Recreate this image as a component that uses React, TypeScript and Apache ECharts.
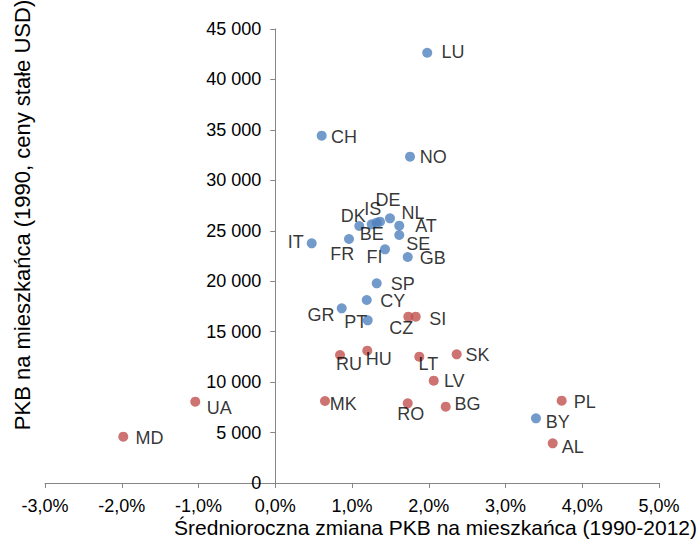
import React, { useEffect, useRef } from "react";
import * as echarts from "echarts";

// Blue series (Western Europe + BY)
const blueNames = ["LU", "CH", "NO", "DK", "IS", "BE", "DE", "NL", "AT", "SE", "FR", "IT", "FI", "GB", "SP", "CY", "GR", "PT", "BY"];
const blueX = [1.98, 0.605, 1.756, 1.095, 1.257, 1.322, 1.365, 1.495, 1.616, 1.616, 0.961, 0.475, 1.43, 1.726, 1.322, 1.192, 0.866, 1.205, 3.397];
const blueY = [42650, 34425, 32343, 25474, 25642, 25801, 25900, 26237, 25504, 24582, 24185, 23759, 23164, 22401, 19794, 18139, 17316, 16127, 6413];

// Red series (Central & Eastern Europe)
const redNames = ["CZ", "SI", "RU", "HU", "LT", "SK", "LV", "MK", "RO", "BG", "PL", "AL", "UA", "MD"];
const redX = [1.734, 1.83, 0.844, 1.199, 1.877, 2.364, 2.065, 0.648, 1.726, 2.221, 3.732, 3.615, -1.042, -1.98];
const redY = [16484, 16484, 12687, 13114, 12519, 12757, 10140, 8128, 7900, 7563, 8158, 3935, 8058, 4589];

// Axis ticks
const xTicks = { min: -3, max: 5, interval: 1 };
const yTicks = { min: 0, max: 45000, interval: 5000 };

const xTitle = "Średnioroczna zmiana PKB na mieszkańca (1990-2012)";
const yTitle = "PKB na mieszkańca (1990, ceny stałe USD)";

// label centre offsets from the marker (pixels) – styling only
const labelOffsets: Record<string, [number, number]> = {
  LU: [25.7, -0.5], CH: [22.3, 1], NO: [23.3, 0.8], DK: [-6, -10], IS: [1, -15], BE: [-5, 11.5],
  DE: [8, -22], NL: [23, -5], AT: [26.7, 0.6], SE: [19, 9], FR: [-6.7, 15], IT: [-16, -1],
  FI: [-10.5, 7.4], GB: [25, 1.3], SP: [26, 0.7], CY: [26, 1], GR: [-20.7, 6.7], PT: [-12, 2.2],
  BY: [21.7, 3.3], CZ: [-7, 11], SI: [22, 2.3], RU: [9, 8.7], HU: [11.4, 8], LT: [9, 7.3],
  SK: [20.8, 1.2], LV: [20.5, 0.5], MK: [18.3, 3.2], RO: [3, 11], BG: [21.8, -2.2], PL: [23, 1],
  AL: [20, 3.3], UA: [24, 6.7], MD: [26.3, 1.7],
};

const FONT = "'Liberation Sans', Arial, sans-serif";

const GRID_LEFT = 45;
const GRID_RIGHT = 40;
const WIDTH = 699;

function buildData(names: string[], xs: number[], ys: number[]) {
  return names.map((n, i) => ({
    name: n,
    value: [xs[i], ys[i]],
    label: { offset: labelOffsets[n] || [20, 0] },
  }));
}

export default function App() {
  const ref = useRef<HTMLDivElement>(null);
  useEffect(() => {
    if (!ref.current) return;
    const chart = echarts.init(ref.current, null, { renderer: "svg" });
    const axisColor = "#868686";
    // shift of the y axis from the grid's left edge to the x = 0 position
    const plotW = WIDTH - GRID_LEFT - GRID_RIGHT;
    const zeroShift = (plotW * (0 - xTicks.min)) / (xTicks.max - xTicks.min);
    const labelStyle = {
      show: true,
      position: "inside",
      formatter: (p: any) => p.name,
      color: "#000",
      fontSize: 18,
      fontFamily: FONT,
      align: "center",
      verticalAlign: "middle",
    };
    chart.setOption({
      animation: false,
      backgroundColor: "#fff",
      grid: {
        left: GRID_LEFT,
        right: GRID_RIGHT,
        top: 29,
        bottom: 60,
        containLabel: false,
        outerBoundsMode: "none",
      },
      xAxis: {
        type: "value",
        min: xTicks.min,
        max: xTicks.max,
        interval: xTicks.interval,
        splitLine: { show: false },
        axisLine: { show: true, lineStyle: { color: axisColor, width: 1 } },
        axisTick: { show: true, length: 5, lineStyle: { color: axisColor } },
        axisLabel: {
          margin: 14,
          color: "#000",
          fontSize: 18,
          fontFamily: FONT,
          formatter: (v: number) => v.toFixed(1).replace(".", ",") + "%",
        },
      },
      yAxis: {
        type: "value",
        min: yTicks.min,
        max: yTicks.max,
        interval: yTicks.interval,
        offset: -zeroShift,
        splitLine: { show: false },
        axisLine: { show: true, onZero: false, lineStyle: { color: axisColor, width: 1 } },
        axisTick: { show: true, length: 5, lineStyle: { color: axisColor } },
        axisLabel: {
          margin: 14,
          color: "#000",
          fontSize: 18,
          fontFamily: FONT,
          formatter: (v: number) => (v === 0 ? "0" : `${Math.round(v / 1000)} 000`),
        },
      },
      series: [
        {
          type: "scatter",
          symbolSize: 10,
          itemStyle: { color: "#4F81BD" },
          label: labelStyle,
          data: buildData(blueNames, blueX, blueY),
        },
        {
          type: "scatter",
          symbolSize: 10,
          itemStyle: { color: "#C0504D" },
          label: labelStyle,
          data: buildData(redNames, redX, redY),
        },
      ],
      graphic: [
        {
          type: "text",
          x: 22,
          y: 215,
          rotation: Math.PI / 2,
          style: {
            text: yTitle,
            fill: "#000",
            font: `22px ${FONT}`,
            align: "center",
            verticalAlign: "middle",
          },
        },
        {
          type: "text",
          x: 697,
          y: 527,
          style: {
            text: xTitle,
            fill: "#000",
            font: `21px ${FONT}`,
            align: "right",
            verticalAlign: "middle",
          },
        },
      ],
    });
    return () => chart.dispose();
  }, []);
  return (
    <div
      ref={ref}
      style={{ position: "fixed", left: 0, top: 0, width: WIDTH, height: 543, background: "#fff" }}
    />
  );
}
